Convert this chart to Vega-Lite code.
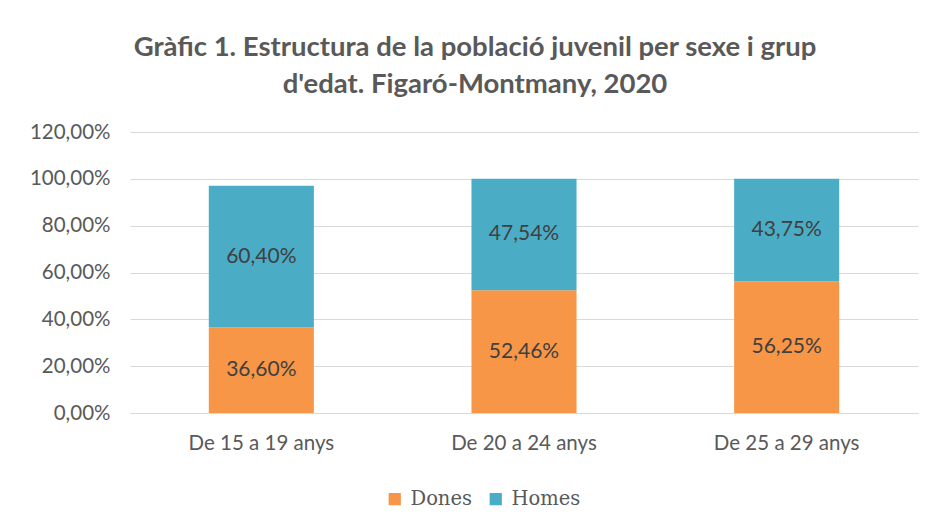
{
  "$schema": "https://vega.github.io/schema/vega-lite/v6.json",
  "width": 788,
  "height": 281,
  "autosize": {"type": "none"},
  "padding": {"left": 130, "top": 132, "right": 18, "bottom": 119},
  "background": "white",
  "title": {
    "text": ["Gràfic 1. Estructura de la població juvenil per sexe i grup", "d'edat. Figaró-Montmany, 2020"],
    "font": "Lato",
    "fontSize": 27.5,
    "fontWeight": "bold",
    "color": "#595959",
    "anchor": "middle",
    "dx": -49,
    "dy": 6,
    "offset": 30,
    "lineHeight": 37
  },
  "data": {
    "values": [
      {"age": "De 15 a 19 anys", "sex": "Dones", "order": 1, "value": 36.6},
      {"age": "De 15 a 19 anys", "sex": "Homes", "order": 2, "value": 60.4},
      {"age": "De 20 a 24 anys", "sex": "Dones", "order": 1, "value": 52.46},
      {"age": "De 20 a 24 anys", "sex": "Homes", "order": 2, "value": 47.54},
      {"age": "De 25 a 29 anys", "sex": "Dones", "order": 1, "value": 56.25},
      {"age": "De 25 a 29 anys", "sex": "Homes", "order": 2, "value": 43.75}
    ]
  },
  "transform": [
    {"stack": "value", "groupby": ["age"], "sort": [{"field": "order"}], "as": ["v0", "v1"]},
    {"calculate": "(datum.v0 + datum.v1) / 2", "as": "mid"},
    {"calculate": "replace(format(datum.value, '.2f'), '.', ',') + '%'", "as": "label"}
  ],
  "encoding": {
    "x": {
      "field": "age",
      "type": "nominal",
      "scale": {"paddingInner": 0.6, "paddingOuter": 0.3},
      "axis": {
        "title": null,
        "labelAngle": 0,
        "labelFont": "Lato",
        "labelFontSize": 20.5,
        "labelColor": "#595959",
        "labelPadding": 20,
        "ticks": false,
        "domainColor": "#D9D9D9",
        "domainWidth": 1
      }
    }
  },
  "layer": [
    {
      "mark": {"type": "bar"},
      "encoding": {
        "y": {
          "field": "v1",
          "type": "quantitative",
          "scale": {"domain": [0, 120]},
          "axis": {
            "title": null,
            "values": [0, 20, 40, 60, 80, 100, 120],
            "labelExpr": "replace(format(datum.value, '.2f'), '.', ',') + '%'",
            "labelFont": "Lato",
            "labelFontSize": 20.5,
            "labelColor": "#595959",
            "labelPadding": 20,
            "ticks": false,
            "domain": false,
            "gridColor": "#D9D9D9",
            "gridWidth": 1
          }
        },
        "y2": {"field": "v0"},
        "color": {
          "field": "sex",
          "type": "nominal",
          "scale": {"domain": ["Dones", "Homes"], "range": ["#F79646", "#4BACC6"]},
          "legend": {
            "title": null,
            "orient": "none",
            "direction": "horizontal",
            "legendX": 255,
            "legendY": 357,
            "symbolType": "square",
            "symbolSize": 150,
            "symbolStrokeWidth": 0,
            "labelFont": "DejaVu Serif",
            "labelFontSize": 19.5,
            "labelColor": "#595959",
            "columnPadding": 14,
            "labelOffset": 6
          }
        }
      }
    },
    {
      "mark": {"type": "text", "font": "Lato", "fontSize": 21, "color": "#404040"},
      "encoding": {
        "y": {"field": "mid", "type": "quantitative"},
        "text": {"field": "label", "type": "nominal"}
      }
    }
  ],
  "config": {"view": {"stroke": null}}
}
